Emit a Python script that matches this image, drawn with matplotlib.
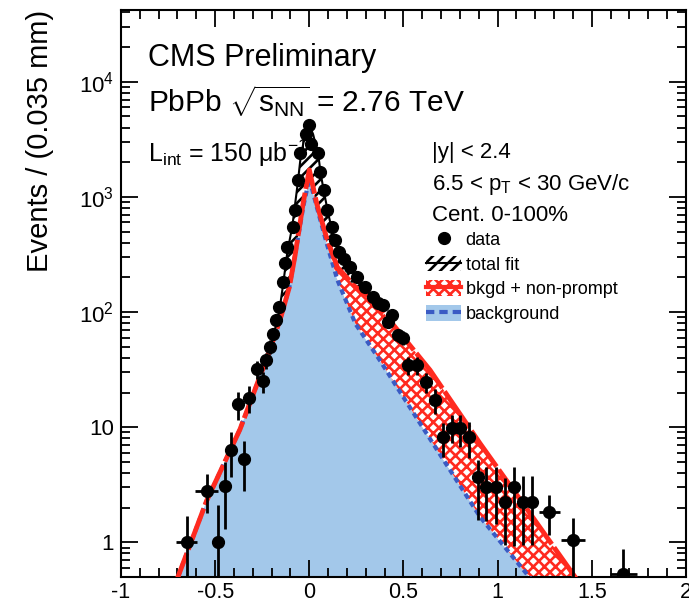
import numpy as np
import matplotlib
matplotlib.use("Agg")
import matplotlib.pyplot as plt
from matplotlib.lines import Line2D
from matplotlib.patches import Patch
from matplotlib.ticker import FixedLocator, FixedFormatter, MultipleLocator

plt.rcParams['font.family'] = ['Liberation Sans', 'DejaVu Sans']
plt.rcParams['mathtext.fontset'] = 'custom'
plt.rcParams['mathtext.rm'] = 'Liberation Sans'
plt.rcParams['mathtext.it'] = 'Liberation Sans'
plt.rcParams['axes.unicode_minus'] = False
plt.rcParams['hatch.linewidth'] = 1.9

# pseudo-proper decay length, data points
data_x = [-0.651, -0.545, -0.485, -0.446, -0.417, -0.379, -0.347, -0.319, -0.279, -0.248,
          -0.23, -0.21, -0.195, -0.175, -0.16, -0.141, -0.129, -0.117, -0.085, -0.076,
          -0.062, -0.049, -0.02, 0.0, 0.01, 0.048, 0.057, 0.078, 0.092, 0.119,
          0.136, 0.159, 0.185, 0.216, 0.252, 0.296, 0.34, 0.365, 0.39, 0.42,
          0.438, 0.473, 0.5, 0.526, 0.57, 0.62, 0.668, 0.712, 0.756, 0.8,
          0.85, 0.898, 0.939, 0.99, 1.039, 1.087, 1.133, 1.181, 1.275, 1.399, 1.668]
data_y = [1.0, 2.8, 1.0, 3.1, 6.4, 16, 5.3, 18, 32, 25,
          38, 50, 65, 85, 110, 183, 265, 370, 552, 771,
          1406, 2400, 3500, 4230, 2900, 2400, 1660, 1150, 771, 552,
          421, 334, 290, 248, 203, 166, 136, 120, 115, 82,
          94, 63, 60, 34.6, 34.6, 24.8, 17.2, 8.24, 9.75, 9.75,
          8.24, 3.7, 3.03, 3.03, 2.24, 3.03, 2.24, 2.24, 1.83, 1.05, 0.53]
err_lo = [0.99, 1.0, 0.99, 1.8, 2.7, 4.5, 2.5, 4.8, 5.7, 5.0,
          6.2, 7, 8, 9, 10.5, 13.5, 16, 19, 23, 28,
          37, 49, 59, 65, 54, 49, 41, 34, 28, 23,
          20, 18, 17, 16, 14, 13, 12, 11, 11, 9,
          10, 8, 8, 6, 6, 5, 4.2, 2.7, 2.5, 3.0,
          2.8, 2.15, 1.5, 1.6, 1.3, 2.1, 1.3, 1.3, 0.68, 1.0, 0.5]
err_hi = [0.7, 1.1, 1.1, 1.9, 2.7, 4.2, 2.3, 4.7, 5.7, 5.0,
          6.2, 7, 8, 9, 10.5, 13.5, 16, 19, 23, 28,
          37, 49, 59, 65, 54, 49, 41, 34, 28, 23,
          20, 18, 17, 16, 14, 13, 12, 11, 11, 9,
          10, 8, 8, 6, 6, 5, 4.2, 2.6, 3.0, 3.0,
          2.8, 1.5, 1.5, 1.5, 1.4, 1.5, 1.5, 1.5, 0.73, 0.57, 0.35]
x_err = [0.055, 0.06, 0, 0, 0, 0, 0, 0, 0, 0,
         0, 0, 0, 0, 0, 0, 0, 0, 0, 0,
         0, 0, 0, 0, 0, 0, 0, 0, 0, 0,
         0, 0, 0, 0, 0, 0, 0, 0, 0, 0,
         0, 0, 0, 0, 0, 0, 0, 0, 0, 0,
         0, 0, 0, 0, 0, 0, 0, 0, 0.055, 0.065, 0.07]

# fit components
bkg_x = [-0.74, -0.704, -0.545, -0.368, -0.209, -0.15, -0.106, -0.076, -0.032, 0.0,
         0.039, 0.092, 0.149, 0.245, 0.375, 0.588, 0.907, 1.155, 1.2]
bkg_y = [0.36, 0.47, 2.3, 9.6, 47, 92, 165, 310, 824, 1455,
         824, 396, 190, 79, 38, 10.8, 1.66, 0.53, 0.43]

npr_x = [-0.74, -0.704, -0.545, -0.368, -0.209, -0.15, -0.106, -0.076, -0.032, 0.0,
         0.039, 0.092, 0.149, 0.245, 0.34, 0.411, 0.641, 0.907, 1.172, 1.411, 1.45]
npr_y = [0.36, 0.47, 2.3, 9.6, 47, 92, 165, 310, 900, 1718,
         880, 440, 245, 165, 128, 91, 31.3, 7.2, 1.78, 0.5, 0.41]

tot_x = [-0.209, -0.16, -0.14, -0.117, -0.09, -0.062, -0.045, -0.02, 0.0,
         0.02, 0.048, 0.06, 0.078, 0.1, 0.12, 0.15, 0.2, 0.25, 0.3, 0.34]
tot_y = [47, 100, 170, 330, 560, 1300, 2300, 3600, 4200,
         3500, 2300, 1600, 1100, 720, 520, 370, 260, 200, 160, 128]

x_ticks = [-1, -0.5, 0, 0.5, 1, 1.5, 2]
x_ticklabels = ['-1', '-0.5', '0', '0.5', '1', '1.5', '2']
y_ticks = [1, 10, 100, 1000, 10000]
y_ticklabels = ['1', '10', '$10^{2}$', '$10^{3}$', '$10^{4}$']

bkg_fill = '#a3c8ea'
bkg_line = '#3a5bc4'
red = '#ff2a1f'

W, H = 689, 606
fig = plt.figure(figsize=(W / 100, H / 100), dpi=100)
ax = fig.add_axes([121 / W, 1 - 577 / H, 565 / W, 567 / H])
ax.set_yscale('log')
ax.set_xlim(-1, 2)
ax.set_ylim(0.5, 4.2e4)

# background
ax.fill_between(bkg_x, bkg_y, 1e-3, color=bkg_fill, lw=0, zorder=1)

# non-prompt band between background and bkgd + non-prompt
band_x = list(npr_x) + list(bkg_x[::-1])
band_y = list(npr_y) + list(bkg_y[::-1])
ax.fill(band_x, band_y, facecolor='white', edgecolor=red, hatch='xxx', lw=0, zorder=2)

# prompt part between total fit and bkgd + non-prompt
sel = [i for i, v in enumerate(npr_x) if tot_x[0] <= v <= tot_x[-1]]
prm_x = list(tot_x) + [npr_x[i] for i in sel[::-1]]
prm_y = list(tot_y) + [npr_y[i] for i in sel[::-1]]
ax.fill(prm_x, prm_y, facecolor='white', edgecolor='black', hatch='///', lw=0, zorder=2.5)

ax.plot(bkg_x, bkg_y, color=bkg_line, lw=3, ls=(0, (1.3, 1.0)), zorder=3)
ax.plot(npr_x, npr_y, color=red, lw=3.5, ls=(0, (9, 0.8)), zorder=3.5)
ax.plot(tot_x, tot_y, color='black', lw=1.5, zorder=4)

ax.errorbar(data_x, data_y, yerr=[err_lo, err_hi], xerr=x_err, fmt='o', ms=8.5,
            color='black', elinewidth=2, capsize=0, zorder=5, clip_on=True)

# axes in ROOT style: inward ticks on all sides
ax.xaxis.set_major_locator(FixedLocator(x_ticks))
ax.xaxis.set_major_formatter(FixedFormatter(x_ticklabels))
ax.xaxis.set_minor_locator(MultipleLocator(0.1))
ax.yaxis.set_major_locator(FixedLocator(y_ticks))
ax.yaxis.set_major_formatter(FixedFormatter(y_ticklabels))
ax.tick_params(which='both', direction='in', top=True, right=True, width=1.3, labelsize=16)
ax.tick_params(which='major', length=12.5)
ax.tick_params(which='minor', length=6.5)
ax.tick_params(axis='x', pad=3.5, labelsize=15.5)
ax.tick_params(axis='y', pad=5)
for s in ax.spines.values():
    s.set_linewidth(1.5)

fig.text(40 / W, 1 - 10 / H, 'Events / (0.035 mm)', rotation=90, ha='center', va='top', fontsize=21)

fig.text(148 / W, 1 - 66 / H, 'CMS Preliminary', fontsize=22, va='baseline')
fig.text(148 / W, 1 - 112 / H, r'PbPb $\sqrt{s_{\rm NN}}$ = 2.76 TeV', fontsize=21.5, va='baseline')
fig.text(148 / W, 1 - 162 / H, r'L$_{\rm int}$ = 150 μb$^{-1}$', fontsize=18, va='baseline')
fig.text(432 / W, 1 - 158 / H, '|y| < 2.4', fontsize=16, va='baseline')
fig.text(432 / W, 1 - 190 / H, r'6.5 < p$_{\rm T}$ < 30 GeV/c', fontsize=16, va='baseline')
fig.text(432 / W, 1 - 221 / H, 'Cent. 0-100%', fontsize=16, va='baseline')

handles = [
    Line2D([], [], marker='o', color='black', ls='none', ms=8.5),
    (Patch(facecolor='white', edgecolor='black', hatch='///', lw=0),
     Line2D([], [], color='black', lw=1.5)),
    (Patch(facecolor='white', edgecolor=red, hatch='xxx', lw=0),
     Line2D([], [], color=red, lw=3)),
    (Patch(facecolor=bkg_fill, lw=0),
     Line2D([], [], color=bkg_line, lw=3, ls=(0, (2, 1.2)))),
]
labels = ['data', 'total fit', 'bkgd + non-prompt', 'background']
fig.legend(handles, labels, loc='upper left', bbox_to_anchor=(426 / W, 1 - 231 / H),
           frameon=False, fontsize=13, borderpad=0, borderaxespad=0, handlelength=1.95,
           handleheight=0.95, handletextpad=0.25, labelspacing=0.37)

fig.savefig('out.png', dpi=100)
